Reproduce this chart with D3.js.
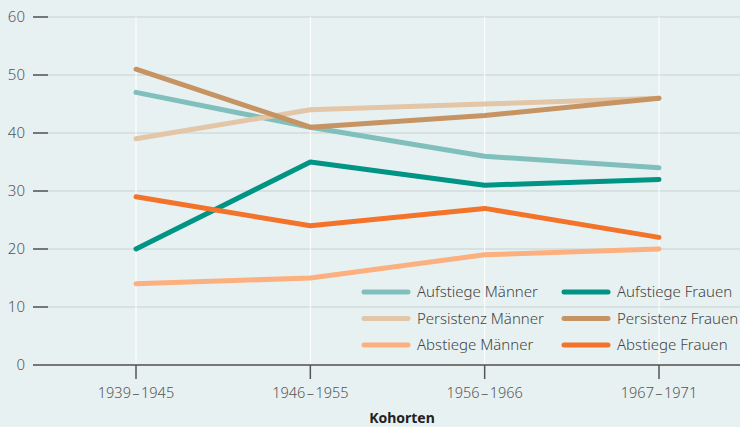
<!DOCTYPE html>
<html>
<head>
<meta charset="utf-8">
<script src="https://cdn.jsdelivr.net/npm/d3@7"></script>
<style>
  body { margin: 0; background: #e8f1f2; }
  svg { display: block; font-family: "Noto Sans", sans-serif; }
</style>
</head>
<body>
<svg id="chart"></svg>
<script>
// categories and series
var kohorten = ["1939\u20131945", "1946\u20131955", "1956\u20131966", "1967\u20131971"];
var aufstiegeMaenner = [47, 41, 36, 34];
var aufstiegeFrauen = [20, 35, 31, 32];
var persistenzMaenner = [39, 44, 45, 46];
var persistenzFrauen = [51, 41, 43, 46];
var abstiegeMaenner = [14, 15, 19, 20];
var abstiegeFrauen = [29, 24, 27, 22];
var yTicks = [0, 10, 20, 30, 40, 50, 60];

var series = [
  {name: "Aufstiege Männer", values: aufstiegeMaenner, color: "#80bfbb"},
  {name: "Aufstiege Frauen", values: aufstiegeFrauen, color: "#009485"},
  {name: "Persistenz Männer", values: persistenzMaenner, color: "#e3c5a7"},
  {name: "Persistenz Frauen", values: persistenzFrauen, color: "#c69363"},
  {name: "Abstiege Männer", values: abstiegeMaenner, color: "#fcb080"},
  {name: "Abstiege Frauen", values: abstiegeFrauen, color: "#f4732a"}
];

var width = 740, height = 427;
var svg = d3.select("#chart").attr("width", width).attr("height", height);

svg.append("rect").attr("width", width).attr("height", height).attr("fill", "#e8f1f2");

var x = d3.scalePoint().domain(kohorten).range([136, 659]);
var y = d3.scaleLinear().domain([0, 60]).range([365, 17]);

// horizontal grid
svg.append("g").selectAll("line")
  .data(yTicks.filter(function(d) { return d > 0; }))
  .enter().append("line")
  .attr("x1", 33).attr("x2", width)
  .attr("y1", function(d) { return y(d); })
  .attr("y2", function(d) { return y(d); })
  .attr("stroke", "#d3dbdc").attr("stroke-width", 1.5);

// vertical white grid
svg.append("g").selectAll("line")
  .data(kohorten)
  .enter().append("line")
  .attr("x1", function(d) { return x(d); })
  .attr("x2", function(d) { return x(d); })
  .attr("y1", y(60)).attr("y2", y(0))
  .attr("stroke", "#ffffff").attr("stroke-width", 1);

// y axis ticks + labels
var yAxis = svg.append("g");
yAxis.selectAll("line")
  .data(yTicks)
  .enter().append("line")
  .attr("x1", 33).attr("x2", 48)
  .attr("y1", function(d) { return y(d); })
  .attr("y2", function(d) { return y(d); })
  .attr("stroke", "#555").attr("stroke-width", 1.5);
yAxis.selectAll("text")
  .data(yTicks)
  .enter().append("text")
  .attr("x", 25)
  .attr("y", function(d) { return y(d); })
  .attr("dy", "0.36em")
  .attr("text-anchor", "end")
  .attr("font-size", 15)
  .attr("font-weight", 300)
  .attr("fill", "#555")
  .text(function(d) { return d; });

// x axis
svg.append("line")
  .attr("x1", 33).attr("x2", width)
  .attr("y1", y(0)).attr("y2", y(0))
  .attr("stroke", "#777").attr("stroke-width", 2);

var xAxis = svg.append("g");
xAxis.selectAll("line")
  .data(kohorten)
  .enter().append("line")
  .attr("x1", function(d) { return x(d); })
  .attr("x2", function(d) { return x(d); })
  .attr("y1", y(0)).attr("y2", y(0) + 14)
  .attr("stroke", "#555").attr("stroke-width", 1.5);
xAxis.selectAll("text")
  .data(kohorten)
  .enter().append("text")
  .attr("x", function(d) { return x(d); })
  .attr("y", 398)
  .attr("text-anchor", "middle")
  .attr("font-size", 14.5)
  .attr("font-weight", 300)
  .attr("fill", "#555")
  .text(function(d) { return d.replace("\u2013", " \u2013 ").replace(/ /g, "\u200a"); });

svg.append("text")
  .attr("x", 402).attr("y", 423)
  .attr("text-anchor", "middle")
  .attr("font-size", 14)
  .attr("font-weight", "bold")
  .attr("fill", "#222")
  .text("Kohorten");

// lines
var line = d3.line()
  .x(function(d, i) { return x(kohorten[i]); })
  .y(function(d) { return y(d); });

svg.append("g").selectAll("path")
  .data(series)
  .enter().append("path")
  .attr("d", function(d) { return line(d.values); })
  .attr("fill", "none")
  .attr("stroke", function(d) { return d.color; })
  .attr("stroke-width", 5)
  .attr("stroke-linecap", "round")
  .attr("stroke-linejoin", "round");

// legend, two columns
var leg = svg.append("g").selectAll("g")
  .data(series)
  .enter().append("g")
  .attr("transform", function(d, i) {
    var col = i % 2, row = Math.floor(i / 2);
    return "translate(" + (364 + col * 200) + "," + (292 + row * 26.5) + ")";
  });
leg.append("line")
  .attr("x1", 0).attr("x2", 44)
  .attr("stroke", function(d) { return d.color; })
  .attr("stroke-width", 5)
  .attr("stroke-linecap", "round");
leg.append("text")
  .attr("x", 53).attr("dy", "0.36em")
  .attr("font-size", 15)
  .attr("font-weight", 300)
  .attr("fill", "#444")
  .text(function(d) { return d.name; });
</script>
</body>
</html>
